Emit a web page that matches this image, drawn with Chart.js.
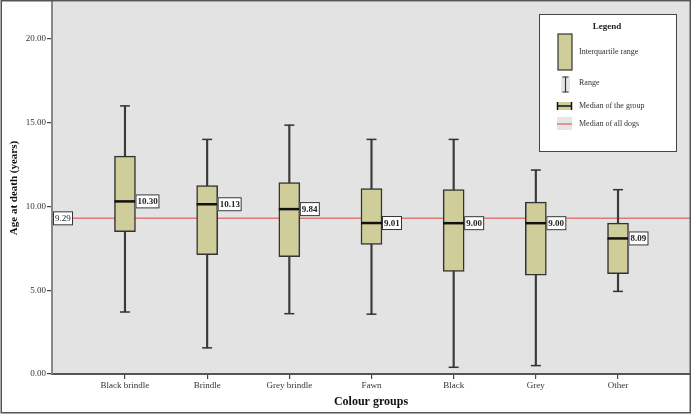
<!DOCTYPE html>
<html><head><meta charset="utf-8">
<script src="https://cdn.jsdelivr.net/npm/chart.js@4.4.1/dist/chart.umd.min.js"></script>
<style>html,body{margin:0;padding:0;background:#fff;} #wrap{width:692px;height:415px;position:relative;}</style>
</head><body><div id="wrap"><canvas id="c" width="692" height="415"></canvas></div>
<script>
const categories = ['Black brindle','Brindle','Grey brindle','Fawn','Black','Grey','Other'];
const minValues = [3.70, 1.56, 3.60, 3.57, 0.40, 0.50, 4.93];
const q1Values = [8.50, 7.12, 7.00, 7.73, 6.12, 5.90, 5.98];
const medianValues = [10.30, 10.13, 9.84, 9.01, 9.00, 9.00, 8.09];
const q3Values = [13.00, 11.24, 11.43, 11.07, 11.00, 10.26, 9.00];
const maxValues = [16.00, 14.00, 14.85, 14.00, 14.00, 12.17, 11.00];
const overallMedian = 9.29;
const yTickValues = [0, 5, 10, 15, 20];
const legendItems = ['Interquartile range', 'Range', 'Median of the group', 'Median of all dogs'];

const SERIF = '"Liberation Serif", "Times New Roman", serif';
const BOX_FILL = '#cfce9a';
const GRID_BG = '#e3e3e3';
const RED = '#e07a7a';

const decorPlugin = {
  id: 'decor',
  beforeDraw(chart) {
    const {ctx, chartArea: a} = chart;
    ctx.save();
    ctx.fillStyle = GRID_BG;
    ctx.fillRect(a.left, a.top, a.right - a.left, a.bottom - a.top);
    ctx.restore();
  },
  beforeDatasetsDraw(chart) {
    const {ctx, chartArea: a, scales} = chart;
    const y = scales.y.getPixelForValue(overallMedian);
    ctx.save();
    ctx.strokeStyle = RED; ctx.lineWidth = 1.5;
    ctx.beginPath(); ctx.moveTo(a.left, y); ctx.lineTo(a.right, y); ctx.stroke();
    ctx.restore();
  },
  afterDatasetsDraw(chart) {
    const {ctx, chartArea: a, scales} = chart;
    ctx.save();
    ctx.textBaseline = 'middle';
    ctx.textAlign = 'left';
    const drawLabel = (x, y, txt, bold) => {
      ctx.font = (bold ? 'bold ' : '') + '9px ' + SERIF;
      const w = Math.round(ctx.measureText(txt).width) + 4;
      ctx.fillStyle = '#fff';
      ctx.fillRect(x, y - 7, w, 14);
      ctx.strokeStyle = '#333'; ctx.lineWidth = 1;
      ctx.strokeRect(x + 0.5, y - 6.5, w - 1, 13);
      ctx.fillStyle = '#222';
      ctx.fillText(txt, x + 2, y + 0.5);
    };
    medianValues.forEach((m, i) => {
      drawLabel(scales.x.getPixelForValue(i) + 10.5, scales.y.getPixelForValue(m), m.toFixed(2), true);
    });
    drawLabel(a.left + 1, scales.y.getPixelForValue(overallMedian), overallMedian.toFixed(2), false);
    ctx.restore();
  },
  afterDraw(chart) {
    const {ctx} = chart;
    ctx.save();
    // legend box
    ctx.fillStyle = '#fff';
    ctx.fillRect(539.5, 14.5, 137, 137);
    ctx.strokeStyle = '#444'; ctx.lineWidth = 1;
    ctx.strokeRect(539.5, 14.5, 137, 137);
    ctx.fillStyle = '#222';
    ctx.font = 'bold 9px ' + SERIF;
    ctx.textAlign = 'center'; ctx.textBaseline = 'middle';
    ctx.fillText('Legend', 607, 27);
    // IQR swatch
    ctx.fillStyle = BOX_FILL;
    ctx.fillRect(558, 34, 14, 36);
    ctx.strokeStyle = '#333'; ctx.lineWidth = 1.2;
    ctx.strokeRect(558, 34, 14, 36);
    // Range icon
    ctx.fillStyle = '#e6e6e6';
    ctx.fillRect(561, 76, 9, 17);
    ctx.beginPath();
    ctx.moveTo(565.5, 77); ctx.lineTo(565.5, 92);
    ctx.moveTo(562.5, 77); ctx.lineTo(568.5, 77);
    ctx.moveTo(562.5, 92); ctx.lineTo(568.5, 92);
    ctx.stroke();
    // Median of group
    ctx.fillStyle = BOX_FILL;
    ctx.fillRect(557, 102, 15, 8);
    ctx.strokeStyle = '#111'; ctx.lineWidth = 1.5;
    ctx.beginPath();
    ctx.moveTo(557, 106); ctx.lineTo(572, 106);
    ctx.moveTo(557.5, 102); ctx.lineTo(557.5, 110);
    ctx.moveTo(571.5, 102); ctx.lineTo(571.5, 110);
    ctx.stroke();
    // Median of all dogs
    ctx.fillStyle = '#e6e6e6';
    ctx.fillRect(557, 117, 15, 13);
    ctx.strokeStyle = RED; ctx.lineWidth = 1.5;
    ctx.beginPath(); ctx.moveTo(557, 124); ctx.lineTo(572, 124); ctx.stroke();
    // texts
    ctx.fillStyle = '#333';
    ctx.font = '8px ' + SERIF;
    ctx.textAlign = 'left';
    const ys = [52, 83, 106, 124];
    legendItems.forEach((t, i) => ctx.fillText(t, 579, ys[i]));
    // outer frame
    ctx.strokeStyle = '#555'; ctx.lineWidth = 1.5;
    ctx.strokeRect(1.25, 0.75, 689, 412);
    ctx.restore();
  }
};

const idx = categories.map((c, i) => i);
const chart = new Chart(document.getElementById('c'), {
  type: 'bar',
  data: {
    datasets: [
      {
        type: 'scatter', label: 'Median',
        data: idx.map(i => ({x: i, y: medianValues[i]})),
        pointStyle: 'line', pointRadius: 10.5, borderColor: '#111', borderWidth: 2.5,
        order: 0
      },
      {
        type: 'scatter', label: 'Caps',
        data: idx.map(i => ({x: i, y: minValues[i]})).concat(idx.map(i => ({x: i, y: maxValues[i]}))),
        pointStyle: 'line', pointRadius: 5, borderColor: '#333', borderWidth: 1.5,
        order: 1
      },
      {
        type: 'bar', label: 'Interquartile range',
        data: idx.map(i => ({x: i, y: [q1Values[i], q3Values[i]]})),
        backgroundColor: BOX_FILL, borderColor: '#333', borderWidth: 1.5, borderSkipped: false,
        barThickness: 21, grouped: false, order: 2
      },
      {
        type: 'bar', label: 'Range',
        data: idx.map(i => ({x: i, y: [minValues[i], maxValues[i]]})),
        backgroundColor: '#3a3a3a', borderWidth: 0,
        barThickness: 1.5, grouped: false, order: 3
      }
    ]
  },
  options: {
    responsive: false, animation: false, devicePixelRatio: 1, events: [],
    layout: {autoPadding: false, padding: {left: 0, right: 2, top: 2, bottom: 0}},
    plugins: {legend: {display: false}, tooltip: {enabled: false}},
    scales: {
      x: {
        type: 'linear', min: -0.888, max: 6.876, offset: false,
        afterFit(s) { s.height = 41; s.paddingLeft = 0; s.paddingRight = 0; },
        afterBuildTicks(s) { s.ticks = idx.map(v => ({value: v})); },
        ticks: {
          stepSize: 1, includeBounds: false, autoSkip: false, maxRotation: 0, padding: 1,
          color: '#333', font: {family: SERIF, size: 9},
          callback: v => categories[v] ?? ''
        },
        grid: {offset: false, drawOnChartArea: false, drawTicks: true, tickLength: 5, color: '#444', lineWidth: 1.2},
        border: {color: '#555', width: 2},
        title: {display: true, text: 'Colour groups', color: '#111',
          font: {family: SERIF, size: 12, weight: 'bold'}, padding: {top: 0, bottom: 6}}
      },
      y: {
        type: 'linear', min: 0, max: 22.2,
        afterFit(s) { s.width = 52; s.paddingTop = 0; s.paddingBottom = 0; },
        afterBuildTicks(s) { s.ticks = yTickValues.map(v => ({value: v})); },
        ticks: {
          stepSize: 5, includeBounds: false, padding: 1,
          color: '#333', font: {family: SERIF, size: 9},
          callback: v => Number(v).toFixed(2)
        },
        grid: {drawOnChartArea: false, drawTicks: true, tickLength: 5, color: '#444', lineWidth: 1.2},
        border: {color: '#888', width: 2},
        title: {display: true, text: 'Age at death (years)', color: '#111',
          font: {family: SERIF, size: 11, weight: 'bold'}, padding: {top: 8, bottom: 0}}
      }
    }
  },
  plugins: [decorPlugin]
});
</script></body></html>
